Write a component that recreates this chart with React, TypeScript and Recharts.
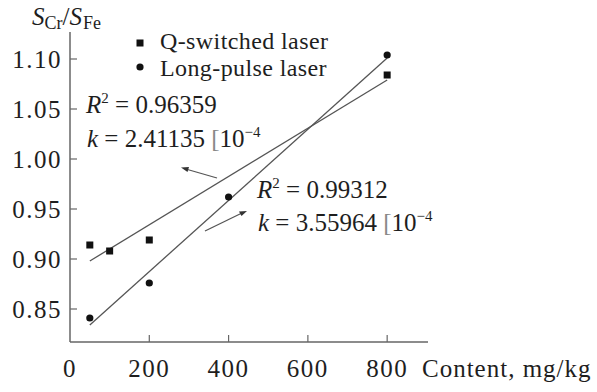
import React from 'react';
import { ComposedChart, Scatter, XAxis, YAxis } from 'recharts';

const xTicks = [0, 200, 400, 600, 800];
const yTicks = [0.85, 0.9, 0.95, 1.0, 1.05, 1.1];

const qSwitched = [
  { x: 50, y: 0.914 },
  { x: 100, y: 0.908 },
  { x: 200, y: 0.919 },
  { x: 800, y: 1.084 },
];
const longPulse = [
  { x: 50, y: 0.841 },
  { x: 200, y: 0.876 },
  { x: 400, y: 0.962 },
  { x: 800, y: 1.104 },
];
const qFit = [
  { x: 50, y: 0.898 },
  { x: 800, y: 1.079 },
];
const lFit = [
  { x: 50, y: 0.834 },
  { x: 800, y: 1.101 },
];

const FONT = '"Liberation Serif", "Times New Roman", serif';
const TXT = '#1e1e1e';
const LINE = '#555';
const AXIS = '#666';

const Square = (p: any) => (
  <rect x={p.cx - 3.5} y={p.cy - 3.5} width={7} height={7} fill="#111" />
);
const Dot = (p: any) => <circle cx={p.cx} cy={p.cy} r={3.6} fill="#111" />;
const None = () => <g />;

const YTick = (p: any) => (
  <g>
    <line x1={p.x + 8} x2={p.x + 15} y1={p.y} y2={p.y} stroke={AXIS} strokeWidth={1.2} />
    <text x={p.x} y={p.y + 8.5} textAnchor="end" fontFamily={FONT} fontSize={25} letterSpacing={1.5} fill={TXT}>
      {p.payload.value.toFixed(2)}
    </text>
  </g>
);
const XTick = (p: any) => (
  <g>
    {p.payload.value !== 0 && (
      <line x1={p.x} x2={p.x} y1={p.y} y2={p.y - 7} stroke={AXIS} strokeWidth={1.2} />
    )}
    <text x={p.x} y={p.y + 35} textAnchor="middle" fontFamily={FONT} fontSize={25} letterSpacing={1.5} fill={TXT}>
      {p.payload.value}
    </text>
  </g>
);

export default function App() {
  return (
    <div style={{ position: 'absolute', left: 0, top: 0, width: 597, height: 392, background: '#fff' }}>
      <ComposedChart width={597} height={392} margin={{ top: 32, right: 169, bottom: 0, left: 0 }}>
        <XAxis
          type="number"
          dataKey="x"
          domain={[0, 903]}
          ticks={xTicks}
          height={50}
          tickSize={0}
          tickMargin={0}
          tickLine={false}
          axisLine={{ stroke: AXIS, strokeWidth: 1.5 }}
          tick={<XTick />}
          interval={0}
          allowDataOverflow
        />
        <YAxis
          type="number"
          dataKey="y"
          domain={[0.817, 1.127]}
          ticks={yTicks}
          width={70}
          tickSize={0}
          tickMargin={8}
          tickLine={false}
          axisLine={{ stroke: AXIS, strokeWidth: 1.5 }}
          tick={<YTick />}
          interval={0}
          allowDataOverflow
        />
        <Scatter data={qFit} line={{ stroke: LINE, strokeWidth: 1.3 }} shape={None} isAnimationActive={false} />
        <Scatter data={lFit} line={{ stroke: LINE, strokeWidth: 1.3 }} shape={None} isAnimationActive={false} />
        <Scatter data={qSwitched} shape={Square} isAnimationActive={false} />
        <Scatter data={longPulse} shape={Dot} isAnimationActive={false} />
      </ComposedChart>
      <svg width={597} height={392} style={{ position: 'absolute', left: 0, top: 0, pointerEvents: 'none' }}>
        <g fontFamily={FONT} fill={TXT}>
          <text x={32} y={25} fontSize={25}>
            <tspan fontStyle="italic">S</tspan>
            <tspan fontSize={18} dy={4}>Cr</tspan>
            <tspan dy={-4}>/</tspan>
            <tspan fontStyle="italic">S</tspan>
            <tspan fontSize={18} dy={4} dx={1}>Fe</tspan>
          </text>
          <text x={422} y={377} fontSize={25} letterSpacing={1}>Content, mg/kg</text>
          <rect x={136.5} y={39.5} width={7} height={7} fill="#111" />
          <circle cx={140} cy={67} r={3.6} fill="#111" />
          <text x={160} y={49} fontSize={24} letterSpacing={0.4}>Q-switched laser</text>
          <text x={160} y={76} fontSize={24} letterSpacing={0.4}>Long-pulse laser</text>
          <text x={86} y={113} fontSize={25}>
            <tspan fontStyle="italic">R</tspan>
            <tspan fontSize={15} dy={-10}>2</tspan>
            <tspan dy={10}> = 0.96359</tspan>
          </text>
          <text x={87} y={147} fontSize={25}>
            <tspan fontStyle="italic">k</tspan>
            <tspan> = 2.41135 </tspan>
            <tspan fill="#888">[</tspan>
            <tspan>10</tspan>
            <tspan fontSize={15} dy={-10}>−4</tspan>
          </text>
          <text x={257} y={198} fontSize={25}>
            <tspan fontStyle="italic">R</tspan>
            <tspan fontSize={15} dy={-10}>2</tspan>
            <tspan dy={10}> = 0.99312</tspan>
          </text>
          <text x={258} y={231} fontSize={25}>
            <tspan fontStyle="italic">k</tspan>
            <tspan> = 3.55964 </tspan>
            <tspan fill="#888">[</tspan>
            <tspan>10</tspan>
            <tspan fontSize={15} dy={-10}>−4</tspan>
          </text>
        </g>
        <g stroke={LINE} strokeWidth={1.3} fill="none">
          <line x1={184} y1={168.5} x2={217} y2={178} />
          <line x1={205} y1={231} x2={243} y2={212.5} />
        </g>
        <g fill="#333">
          <polygon points="181,167.5 189,167 187.5,172" />
          <polygon points="247,211 239,211.5 241.5,216" />
        </g>
      </svg>
    </div>
  );
}
